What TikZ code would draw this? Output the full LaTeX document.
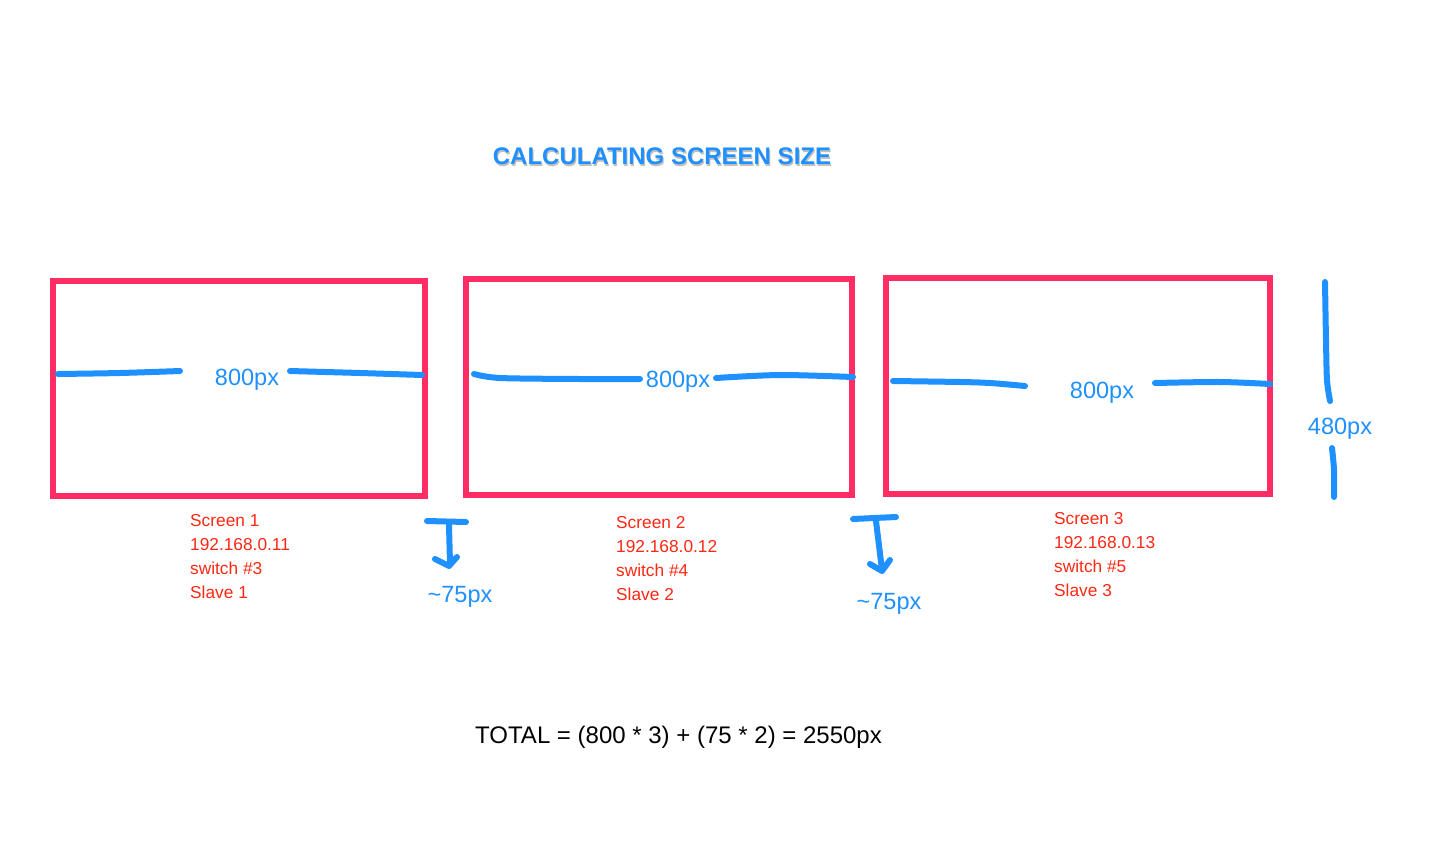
\documentclass[tikz,border=0pt]{standalone}
\usepackage{fontspec}
\setmainfont{Liberation Sans}
\definecolor{rose}{RGB}{255,45,100}
\definecolor{bleu}{RGB}{30,144,255}
\definecolor{rouge}{RGB}{255,40,20}
\begin{document}
\begin{tikzpicture}[x=1pt,y=-1pt]
	% Styles
	\tikzstyle{ecran}=[draw=rose,line width=6pt,inner sep=0pt]
	\tikzstyle{trait}=[draw=bleu,line width=6pt,line cap=round,line join=round]
	\tikzstyle{cote}=[text=bleu,font=\fontsize{23.5}{28}\selectfont,inner sep=1pt]
	\tikzstyle{info}=[text=rouge,font=\fontsize{17.3}{24}\selectfont,align=left,anchor=north west,inner sep=0pt]
	\useasboundingbox[fill=white] (0,0) rectangle (1436,863);
	% Titre
	\node[text=black!25,font=\bfseries\fontsize{24}{28}\selectfont] (ombre) at (663,158) {CALCULATING SCREEN SIZE};
	\node[text=bleu,font=\bfseries\fontsize{24}{28}\selectfont] (titre) at (662,156) {CALCULATING SCREEN SIZE};
	% Ecrans
	\node[ecran,minimum width=372pt,minimum height=215pt] (ecranA) at (239,388.5) {};
	\node[ecran,minimum width=386pt,minimum height=216pt] (ecranB) at (659,387) {};
	\node[ecran,minimum width=384pt,minimum height=216pt] (ecranC) at (1078,386) {};
	% Largeurs
	\node[cote] (largeurA) at (247,380) {800px};
	\node[cote] (largeurB) at (678,382) {800px};
	\node[cote] (largeurC) at (1102,393) {800px};
	\draw[trait] plot[smooth] coordinates {(58,374) (120,373) (180,371)};
	\draw[trait] plot[smooth] coordinates {(290,371) (360,373) (422,375)};
	\draw[trait] plot[smooth] coordinates {(474,374) (500,378) (580,379) (640,379)};
	\draw[trait] plot[smooth] coordinates {(716,378) (780,375) (853,377)};
	\draw[trait] plot[smooth] coordinates {(893,381) (960,382) (990,383) (1025,386)};
	\draw[trait] plot[smooth] coordinates {(1155,383) (1220,382) (1270,384)};
	% Hauteur
	\node[cote] (hauteur) at (1340,429) {480px};
	\draw[trait] plot[smooth] coordinates {(1325,282) (1326,340) (1327,380) (1330,401)};
	\draw[trait] plot[smooth] coordinates {(1332,448) (1334,470) (1334,497)};
	% Espaces
	\node[cote] (espaceA) at (460,597) {\textasciitilde75px};
	\node[cote] (espaceB) at (889,604) {\textasciitilde75px};
	\draw[trait] (427,521) -- (466,522);
	\draw[trait] (449,525) -- (450,564);
	\draw[trait] (435,559) -- (449,566) -- (457,557);
	\draw[trait] (853,519) -- (896,517);
	\draw[trait] (876,521) -- (882,570);
	\draw[trait] (870,564) -- (882,571) -- (890,560);
	% Infos
	\node[info] (infoA) at (190,514) {Screen 1\\192.168.0.11\\switch \#3\\Slave 1};
	\node[info] (infoB) at (616,516) {Screen 2\\192.168.0.12\\switch \#4\\Slave 2};
	\node[info] (infoC) at (1054,512) {Screen 3\\192.168.0.13\\switch \#5\\Slave 3};
	% Total
	\node[font=\fontsize{24}{28}\selectfont,anchor=west,inner sep=0pt] (total) at (475,737) {TOTAL = (800 * 3) + (75 * 2) = 2550px};
\end{tikzpicture}
\end{document}
